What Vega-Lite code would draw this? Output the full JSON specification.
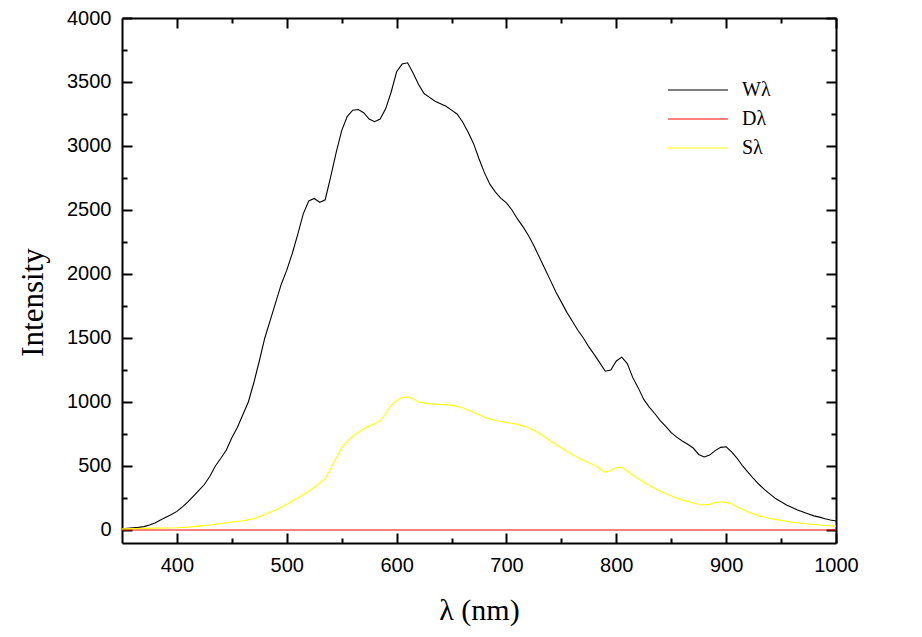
{
  "$schema": "https://vega.github.io/schema/vega-lite/v6.json",
  "width": 714,
  "height": 525,
  "autosize": {"type": "none"},
  "padding": {"left": 122, "top": 18, "right": 86, "bottom": 94},
  "background": "white",
  "config": {
    "view": {"stroke": null},
    "axis": {"grid": false, "domainColor": "black", "tickColor": "black", "labelColor": "black", "titleColor": "black"}
  },
  "datasets": {
    "spectra": [
      {"s":"Wλ","l":350,"v":8},{"s":"Wλ","l":355,"v":12},{"s":"Wλ","l":360,"v":16},{"s":"Wλ","l":365,"v":20},{"s":"Wλ","l":370,"v":26},{"s":"Wλ","l":375,"v":38},{"s":"Wλ","l":380,"v":55},{"s":"Wλ","l":385,"v":78},{"s":"Wλ","l":390,"v":100},{"s":"Wλ","l":395,"v":120},
      {"s":"Wλ","l":400,"v":145},{"s":"Wλ","l":405,"v":180},{"s":"Wλ","l":410,"v":220},{"s":"Wλ","l":415,"v":265},{"s":"Wλ","l":420,"v":310},{"s":"Wλ","l":425,"v":355},{"s":"Wλ","l":430,"v":420},{"s":"Wλ","l":435,"v":500},{"s":"Wλ","l":440,"v":560},{"s":"Wλ","l":445,"v":625},
      {"s":"Wλ","l":450,"v":720},{"s":"Wλ","l":455,"v":800},{"s":"Wλ","l":460,"v":900},{"s":"Wλ","l":465,"v":1000},{"s":"Wλ","l":470,"v":1150},{"s":"Wλ","l":475,"v":1320},{"s":"Wλ","l":480,"v":1500},{"s":"Wλ","l":485,"v":1640},{"s":"Wλ","l":490,"v":1780},{"s":"Wλ","l":495,"v":1920},
      {"s":"Wλ","l":500,"v":2030},{"s":"Wλ","l":505,"v":2160},{"s":"Wλ","l":510,"v":2310},{"s":"Wλ","l":515,"v":2470},{"s":"Wλ","l":520,"v":2570},{"s":"Wλ","l":525,"v":2590},{"s":"Wλ","l":530,"v":2560},{"s":"Wλ","l":535,"v":2580},{"s":"Wλ","l":540,"v":2760},{"s":"Wλ","l":545,"v":2950},
      {"s":"Wλ","l":550,"v":3120},{"s":"Wλ","l":555,"v":3230},{"s":"Wλ","l":560,"v":3280},{"s":"Wλ","l":565,"v":3285},{"s":"Wλ","l":570,"v":3260},{"s":"Wλ","l":575,"v":3210},{"s":"Wλ","l":580,"v":3190},{"s":"Wλ","l":585,"v":3210},{"s":"Wλ","l":590,"v":3290},{"s":"Wλ","l":595,"v":3420},
      {"s":"Wλ","l":600,"v":3580},{"s":"Wλ","l":605,"v":3640},{"s":"Wλ","l":610,"v":3650},{"s":"Wλ","l":615,"v":3570},{"s":"Wλ","l":620,"v":3480},{"s":"Wλ","l":625,"v":3410},{"s":"Wλ","l":630,"v":3380},{"s":"Wλ","l":635,"v":3350},{"s":"Wλ","l":640,"v":3330},{"s":"Wλ","l":645,"v":3310},
      {"s":"Wλ","l":650,"v":3280},{"s":"Wλ","l":655,"v":3250},{"s":"Wλ","l":660,"v":3190},{"s":"Wλ","l":665,"v":3110},{"s":"Wλ","l":670,"v":3020},{"s":"Wλ","l":675,"v":2900},{"s":"Wλ","l":680,"v":2790},{"s":"Wλ","l":685,"v":2700},{"s":"Wλ","l":690,"v":2640},{"s":"Wλ","l":695,"v":2590},
      {"s":"Wλ","l":700,"v":2555},{"s":"Wλ","l":705,"v":2500},{"s":"Wλ","l":710,"v":2430},{"s":"Wλ","l":715,"v":2370},{"s":"Wλ","l":720,"v":2300},{"s":"Wλ","l":725,"v":2220},{"s":"Wλ","l":730,"v":2130},{"s":"Wλ","l":735,"v":2040},{"s":"Wλ","l":740,"v":1950},{"s":"Wλ","l":745,"v":1860},
      {"s":"Wλ","l":750,"v":1780},{"s":"Wλ","l":755,"v":1700},{"s":"Wλ","l":760,"v":1630},{"s":"Wλ","l":765,"v":1560},{"s":"Wλ","l":770,"v":1500},{"s":"Wλ","l":775,"v":1430},{"s":"Wλ","l":780,"v":1370},{"s":"Wλ","l":785,"v":1305},{"s":"Wλ","l":790,"v":1240},{"s":"Wλ","l":795,"v":1250},
      {"s":"Wλ","l":800,"v":1320},{"s":"Wλ","l":805,"v":1350},{"s":"Wλ","l":810,"v":1300},{"s":"Wλ","l":815,"v":1190},{"s":"Wλ","l":820,"v":1110},{"s":"Wλ","l":825,"v":1020},{"s":"Wλ","l":830,"v":960},{"s":"Wλ","l":835,"v":910},{"s":"Wλ","l":840,"v":855},{"s":"Wλ","l":845,"v":810},
      {"s":"Wλ","l":850,"v":760},{"s":"Wλ","l":855,"v":725},{"s":"Wλ","l":860,"v":695},{"s":"Wλ","l":865,"v":670},{"s":"Wλ","l":870,"v":640},{"s":"Wλ","l":875,"v":590},{"s":"Wλ","l":880,"v":570},{"s":"Wλ","l":885,"v":585},{"s":"Wλ","l":890,"v":620},{"s":"Wλ","l":895,"v":645},
      {"s":"Wλ","l":900,"v":650},{"s":"Wλ","l":905,"v":610},{"s":"Wλ","l":910,"v":560},{"s":"Wλ","l":915,"v":500},{"s":"Wλ","l":920,"v":450},{"s":"Wλ","l":925,"v":400},{"s":"Wλ","l":930,"v":355},{"s":"Wλ","l":935,"v":315},{"s":"Wλ","l":940,"v":280},{"s":"Wλ","l":945,"v":245},
      {"s":"Wλ","l":950,"v":220},{"s":"Wλ","l":955,"v":195},{"s":"Wλ","l":960,"v":175},{"s":"Wλ","l":965,"v":155},{"s":"Wλ","l":970,"v":140},{"s":"Wλ","l":975,"v":125},{"s":"Wλ","l":980,"v":110},{"s":"Wλ","l":985,"v":100},{"s":"Wλ","l":990,"v":88},{"s":"Wλ","l":995,"v":78},{"s":"Wλ","l":1000,"v":70},
      {"s":"Dλ","l":350,"v":0},{"s":"Dλ","l":1000,"v":0},
      {"s":"Sλ","l":350,"v":8},{"s":"Sλ","l":360,"v":10},{"s":"Sλ","l":370,"v":12},{"s":"Sλ","l":380,"v":14},{"s":"Sλ","l":390,"v":15},{"s":"Sλ","l":400,"v":17},{"s":"Sλ","l":410,"v":22},{"s":"Sλ","l":420,"v":30},{"s":"Sλ","l":430,"v":39},{"s":"Sλ","l":440,"v":50},
      {"s":"Sλ","l":450,"v":62},{"s":"Sλ","l":460,"v":72},{"s":"Sλ","l":470,"v":88},{"s":"Sλ","l":480,"v":120},{"s":"Sλ","l":490,"v":155},{"s":"Sλ","l":500,"v":200},{"s":"Sλ","l":510,"v":250},{"s":"Sλ","l":520,"v":300},{"s":"Sλ","l":530,"v":365},{"s":"Sλ","l":535,"v":400},
      {"s":"Sλ","l":540,"v":480},{"s":"Sλ","l":545,"v":560},{"s":"Sλ","l":550,"v":640},{"s":"Sλ","l":555,"v":690},{"s":"Sλ","l":560,"v":730},{"s":"Sλ","l":570,"v":790},{"s":"Sλ","l":580,"v":830},{"s":"Sλ","l":585,"v":850},{"s":"Sλ","l":590,"v":910},{"s":"Sλ","l":595,"v":970},
      {"s":"Sλ","l":600,"v":1010},{"s":"Sλ","l":605,"v":1035},{"s":"Sλ","l":610,"v":1040},{"s":"Sλ","l":615,"v":1025},{"s":"Sλ","l":620,"v":1000},{"s":"Sλ","l":630,"v":985},{"s":"Sλ","l":640,"v":980},{"s":"Sλ","l":650,"v":975},{"s":"Sλ","l":660,"v":955},{"s":"Sλ","l":670,"v":920},
      {"s":"Sλ","l":680,"v":880},{"s":"Sλ","l":690,"v":855},{"s":"Sλ","l":700,"v":840},{"s":"Sλ","l":710,"v":825},{"s":"Sλ","l":720,"v":800},{"s":"Sλ","l":730,"v":755},{"s":"Sλ","l":740,"v":695},{"s":"Sλ","l":750,"v":640},{"s":"Sλ","l":760,"v":590},{"s":"Sλ","l":770,"v":545},
      {"s":"Sλ","l":780,"v":505},{"s":"Sλ","l":785,"v":480},{"s":"Sλ","l":790,"v":450},{"s":"Sλ","l":795,"v":465},{"s":"Sλ","l":800,"v":488},{"s":"Sλ","l":805,"v":490},{"s":"Sλ","l":810,"v":460},{"s":"Sλ","l":820,"v":400},{"s":"Sλ","l":830,"v":350},{"s":"Sλ","l":840,"v":305},
      {"s":"Sλ","l":850,"v":265},{"s":"Sλ","l":860,"v":235},{"s":"Sλ","l":870,"v":210},{"s":"Sλ","l":878,"v":195},{"s":"Sλ","l":885,"v":200},{"s":"Sλ","l":890,"v":215},{"s":"Sλ","l":897,"v":220},{"s":"Sλ","l":905,"v":205},{"s":"Sλ","l":910,"v":180},{"s":"Sλ","l":920,"v":140},
      {"s":"Sλ","l":930,"v":110},{"s":"Sλ","l":940,"v":90},{"s":"Sλ","l":950,"v":75},{"s":"Sλ","l":960,"v":60},{"s":"Sλ","l":970,"v":50},{"s":"Sλ","l":980,"v":42},{"s":"Sλ","l":990,"v":35},{"s":"Sλ","l":1000,"v":30}
    ]
  },
  "data": {"name": "spectra"},
  "resolve": {"axis": {"x": "independent", "y": "independent"}},
  "layer": [
    {
      "mark": {"type": "line", "strokeWidth": 1.1, "interpolate": "linear"},
      "encoding": {
        "x": {"field": "l", "type": "quantitative",
          "scale": {"domain": [350, 1000], "nice": false, "zero": false},
          "axis": {"orient": "bottom", "title": "λ (nm)", "values": [400,500,600,700,800,900,1000], "format": "d",
            "tickSize": -10, "tickWidth": 2, "domainWidth": 2, "labelPadding": 22,
            "labelFont": "Liberation Sans", "labelFontSize": 20, "labelFlush": false, "labelOverlap": false,
            "titleFont": "Liberation Serif", "titleFontSize": 30, "titleFontWeight": "normal",
            "titleBaseline": "alphabetic", "titleY": 76, "titleX": 357, "titleAlign": "center"}},
        "y": {"field": "v", "type": "quantitative",
          "scale": {"domain": [-102, 4000], "nice": false, "zero": false},
          "axis": {"orient": "left", "title": "Intensity", "values": [0,500,1000,1500,2000,2500,3000,3500,4000], "format": "d",
            "tickSize": -10, "tickWidth": 2, "domainWidth": 2, "labelPadding": 21,
            "labelFont": "Liberation Sans", "labelFontSize": 20, "labelFlush": false, "labelOverlap": false,
            "titleFont": "Liberation Serif", "titleFontSize": 31, "titleFontWeight": "normal",
            "titleAngle": -90, "titleBaseline": "alphabetic", "titleAlign": "center", "titleX": -80, "titleY": 284}},
        "color": {"field": "s", "type": "nominal",
          "scale": {"domain": ["Wλ", "Dλ", "Sλ"], "range": ["#000000", "#ff0000", "#ffff00"]},
          "legend": {"orient": "none", "legendX": 545, "legendY": 61, "title": null,
            "symbolType": "M-1,0H5", "symbolSize": 400, "symbolStrokeWidth": 1.2,
            "labelFont": "Liberation Serif", "labelFontSize": 20, "labelOffset": 53, "rowPadding": 8,
            "labelColor": "black", "padding": 0}}
      }
    },
    {
      "mark": {"type": "point", "opacity": 0},
      "encoding": {
        "x": {"field": "l", "type": "quantitative",
          "axis": {"orient": "top", "title": null, "labels": false, "values": [400,500,600,700,800,900,1000],
            "tickSize": -10, "tickWidth": 2, "domainWidth": 2}},
        "y": {"field": "v", "type": "quantitative",
          "axis": {"orient": "right", "title": null, "labels": false, "values": [0,500,1000,1500,2000,2500,3000,3500,4000],
            "tickSize": -10, "tickWidth": 2, "domainWidth": 2}}
      }
    },
    {
      "mark": {"type": "point", "opacity": 0},
      "encoding": {
        "x": {"field": "l", "type": "quantitative",
          "axis": {"orient": "bottom", "title": null, "labels": false, "domain": false, "values": [450,550,650,750,850,950],
            "tickSize": -5, "tickWidth": 2}},
        "y": {"field": "v", "type": "quantitative",
          "axis": {"orient": "left", "title": null, "labels": false, "domain": false, "values": [250,750,1250,1750,2250,2750,3250,3750],
            "tickSize": -5, "tickWidth": 2}}
      }
    },
    {
      "mark": {"type": "point", "opacity": 0},
      "encoding": {
        "x": {"field": "l", "type": "quantitative",
          "axis": {"orient": "top", "title": null, "labels": false, "domain": false, "values": [450,550,650,750,850,950],
            "tickSize": -5, "tickWidth": 2}},
        "y": {"field": "v", "type": "quantitative",
          "axis": {"orient": "right", "title": null, "labels": false, "domain": false, "values": [250,750,1250,1750,2250,2750,3250,3750],
            "tickSize": -5, "tickWidth": 2}}
      }
    }
  ]
}
